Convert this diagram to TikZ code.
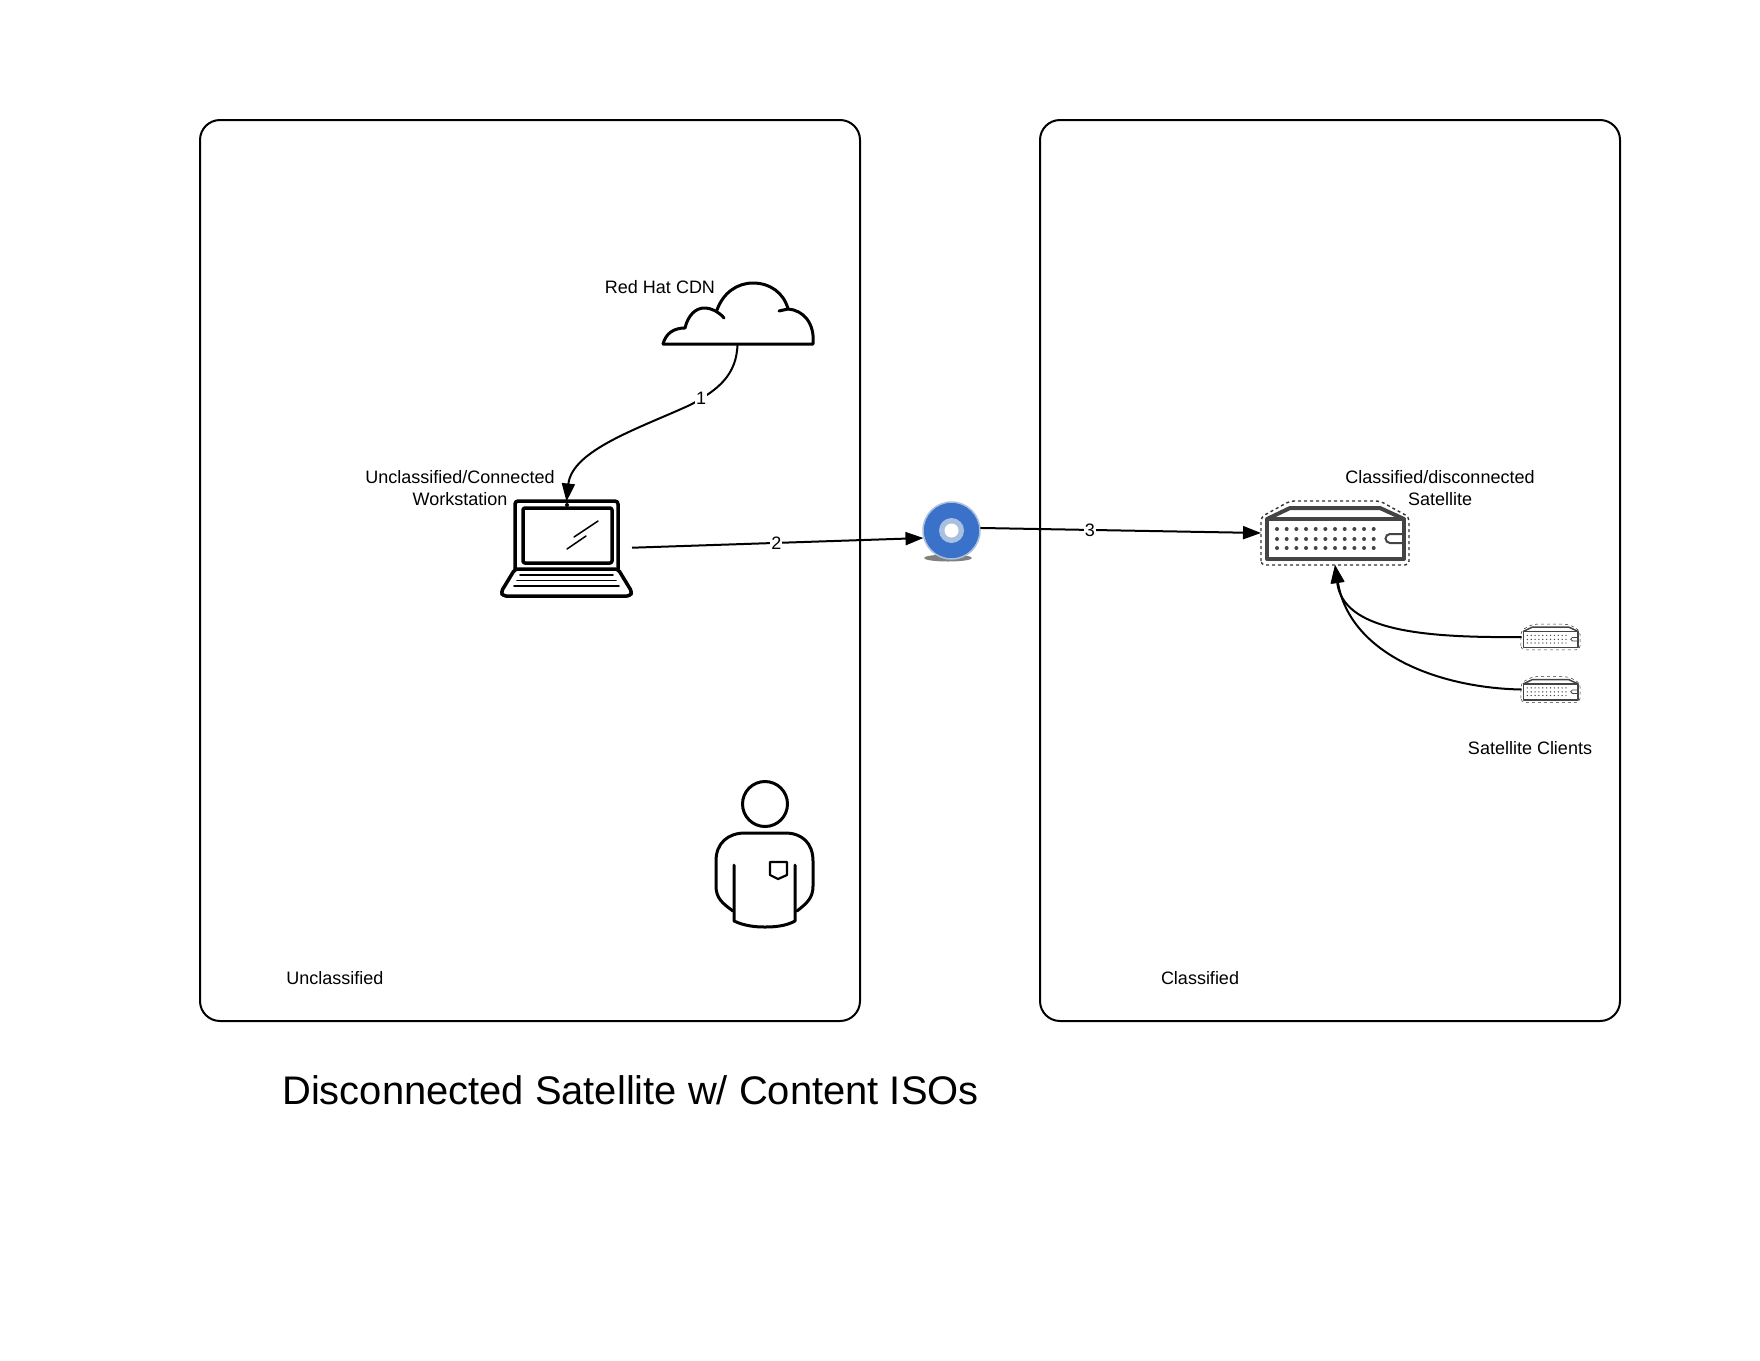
\documentclass[tikz,border=0pt]{standalone}
\usepackage{fontspec}
\setmainfont{Liberation Sans}
\usepackage{tikz}
\usetikzlibrary{arrows.meta}
\definecolor{diskblue}{HTML}{3A71C9}
\definecolor{diskring}{HTML}{A9C0E0}
\definecolor{servergray}{HTML}{444444}
\tikzset{
  zonebox/.style={draw, line width=2pt, rounded corners=20pt},
  iconbox/.style={inner sep=0pt, outer sep=0pt},
  iconline/.style={line width=3pt, line join=round, line cap=round},
  conn/.style={line width=2pt},
  edgelabel/.style={fill=white, inner sep=1pt, font=\fontsize{18}{22}\selectfont},
  lbl/.style={align=center, font=\fontsize{18}{22}\selectfont},
}
% #1 centre, #2 scale, #3 line width, #4 dot radius
\newcommand{\drawserver}[4]{
  \begin{scope}[shift={#1}, scale=#2, servergray]
    \draw[black!80, dashed, line width=#3*0.35, rounded corners=4pt] (-74,32) -- (-74,-16) -- (-45,-32) -- (45,-32) -- (74,-16) -- (74,32) -- cycle;
    \draw[line width=#3, line join=round] (-68,-14) rectangle (69,26);
    \draw[line width=#3, line join=round] (-68,-14) -- (-45,-25) -- (45,-25) -- (69,-14);
    \draw[line width=#3*0.5] (69,1) -- (55,1) arc (-90:-270:4.5) -- (69,10);
    \foreach \r in {-4,6,15} {
      \foreach \c in {0,...,10} {\fill (-58+\c*9.67,\r) circle (#4);}
    }
  \end{scope}
}
\begin{document}
\begin{tikzpicture}[x=1pt, y=-1pt, >={Triangle[length=18pt,width=13pt]}]
  \useasboundingbox (0,0) rectangle (1760,1360);
  % zones
  \draw[zonebox] (200,120) rectangle (860,1021);
  \draw[zonebox] (1040,120) rectangle (1620,1021);
  % named places of the icons
  \node[iconbox, minimum width=151pt, minimum height=61pt] (cdn) at (737.5,313) {};
  \node[iconbox, minimum width=131pt, minimum height=97pt] (laptop) at (566.5,550) {};
  \node[iconbox, circle, minimum size=58pt] (disk) at (951.5,530.5) {};
  \node[iconbox, minimum width=148pt, minimum height=64pt] (satellite) at (1335,533) {};
  \node[iconbox, minimum width=58pt, minimum height=25pt] (clienta) at (1550.5,637) {};
  \node[iconbox, minimum width=58pt, minimum height=25pt] (clientb) at (1550.5,689.5) {};
  % cloud
  \begin{scope}[iconline, yshift=-1pt]
    \draw (663,343) -- (813,343) .. controls (815,322) and (803,309) .. (788,308) -- (779,310);
    \draw (663,343) .. controls (666,332) and (674,327) .. (685,327) .. controls (688,314) and (696,307) .. (704,307) .. controls (712,307) and (719,311) .. (724,317);
    \draw (717,309) .. controls (723,292) and (737,282) .. (753,282) .. controls (770,282) and (784,292) .. (788,308);
  \end{scope}
  % laptop
  \begin{scope}[iconline, line width=3.5pt]
    \draw[rounded corners=3pt] (515,569) -- (515,501) -- (618,501) -- (618,569);
    \draw[rounded corners=2pt] (523,508) rectangle (612,563);
    \draw[rounded corners=3pt] (515,569) -- (501,592) -- (503,596) -- (630,596) -- (632,592) -- (618,569) -- cycle;
    \draw[line width=1.7pt] (520,575) -- (613,575);
    \draw[line width=1.7pt] (517,580.5) -- (616,580.5);
    \draw[line width=1.7pt] (514,586) -- (619,586);
    \draw[line width=1.5pt] (574,537) -- (598,521);
    \draw[line width=1.5pt] (567,549) -- (586,536);
    \fill (567,505) circle (2);
  \end{scope}
  % disk
  \fill[black!50] (948,558) ellipse (24 and 3.5);
  \fill[diskblue] (disk) circle (28);
  \draw[diskring, line width=1.5pt] (disk) circle (28.5);
  \fill[diskring] (disk) circle (12.5);
  \fill[white] (disk) circle (7);
  % servers
  \drawserver{(1335,533)}{1}{4pt}{2}
  \drawserver{(1550.5,637)}{0.4}{1.5pt}{1.8}
  \drawserver{(1550.5,689.5)}{0.4}{1.5pt}{1.8}
  % person
  \begin{scope}[iconline, yshift=-1pt]
    \draw (765,803) circle (22.5);
    \draw (733,910) .. controls (722,902) and (716,897) .. (716,885) -- (716,860) .. controls (716,842) and (728,832) .. (745,832) -- (785,832) .. controls (802,832) and (813,842) .. (813,860) -- (813,885) .. controls (813,897) and (807,902) .. (797,910);
    \draw (734,864) -- (734,920) .. controls (745,925) and (755,926) .. (765,926) .. controls (775,926) and (786,925) .. (795,920) -- (795,864);
    \draw[line width=2.2pt] (770,861) -- (787,861) -- (787,874) -- (778,878) -- (770,874) -- cycle;
  \end{scope}
  % connectors
  \draw[conn, ->] (cdn.south) .. controls (737,375) and (718,390) .. node[edgelabel, pos=0.86] {1} (690,405) .. controls (640,428) and (572,450) .. (laptop.north);
  \draw[conn, ->] (laptop.2) -- node[edgelabel, pos=0.495] {2} (disk.195);
  \draw[conn, ->] (disk.5) -- node[edgelabel, pos=0.39] {3} (satellite.west);
  \draw[conn, ->] (clienta.west) .. controls (1420,638) and (1343,630) .. (satellite.south);
  \draw[conn, ->] (clientb.west) .. controls (1440,688) and (1350,655) .. (satellite.south);
  % labels
  \node[lbl] (cdnlabel) at (660,287.5) {Red Hat CDN};
  \node[lbl] (laptoplabel) at (460,488) {Unclassified/Connected\\Workstation};
  \node[lbl] (satlabel) at (1440,488) {Classified/disconnected\\Satellite};
  \node[lbl] (clientlabel) at (1530,748) {Satellite Clients};
  \node[lbl] (unclasslabel) at (335,978) {Unclassified};
  \node[lbl] (classlabel) at (1200,978) {Classified};
  \node[font=\fontsize{39.9}{48}\selectfont] (title) at (630.5,1090) {Disconnected Satellite w/ Content ISOs};
\end{tikzpicture}
\end{document}
